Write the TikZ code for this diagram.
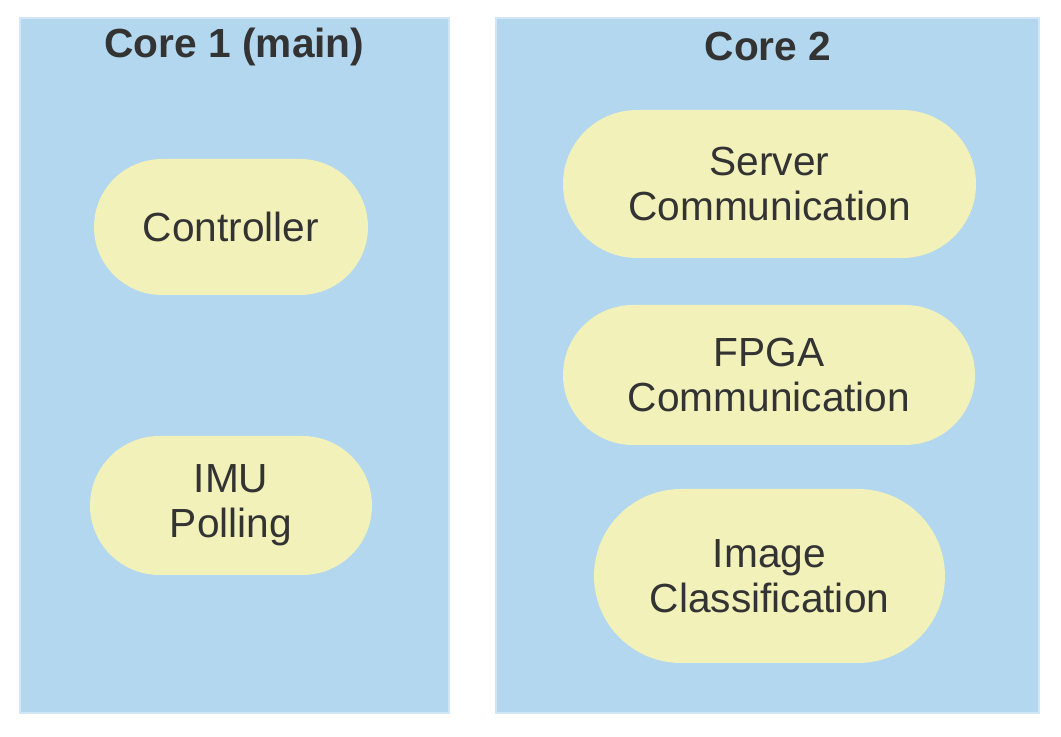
\documentclass[tikz,border=0pt]{standalone}
\usepackage{fontspec}
\setmainfont{Liberation Sans}
\usetikzlibrary{shapes.misc}

\definecolor{coreblue}{RGB}{179,215,238}
\definecolor{coreedge}{RGB}{210,230,245}
\definecolor{taskyellow}{RGB}{241,241,185}
\definecolor{textgrey}{RGB}{51,51,51}

\tikzset{every picture/.style={line width=0.75pt}}
\tikzset{
  core/.style={fill=coreblue, draw=coreedge, line width=1pt},
  coretitle/.style={text=textgrey, font=\fontsize{30.5}{34}\selectfont\bfseries},
  task/.style={rounded rectangle, fill=taskyellow, draw=none, text=textgrey,
    align=center, inner sep=0pt, font=\fontsize{30.5}{34}\selectfont}
}

\begin{document}
\begin{tikzpicture}[x=0.75pt,y=0.75pt,yscale=-1,xscale=1]
	\useasboundingbox (0,0) rectangle (1061,737);

	%Shape: Rectangle [core 1]
	\draw [core] (20,18) rectangle (449,713);
	%Shape: Rectangle [core 2]
	\draw [core] (496,18) rectangle (1039,713);

	% Text Node
	\node [coretitle] (coreone) at (234.5,47) {Core 1 (main)};
	% Text Node
	\node [coretitle] (coretwo) at (768,47) {Core 2};

	% Core 1 tasks
	\node [task, minimum width=274*0.75pt, minimum height=136*0.75pt] (controller) at (231,227) {Controller};
	\node [task, minimum width=282*0.75pt, minimum height=139*0.75pt] (imu) at (231,505.5) {IMU\\Polling};

	% Core 2 tasks
	\node [task, minimum width=413*0.75pt, minimum height=148*0.75pt] (server) at (769.5,184) {Server\\Communication};
	\node [task, minimum width=412*0.75pt, minimum height=140*0.75pt] (fpga) at (769,375) {FPGA\\Communication};
	\node [task, minimum width=351*0.75pt, minimum height=174*0.75pt] (image) at (769.5,576) {Image\\Classification};

\end{tikzpicture}
\end{document}
